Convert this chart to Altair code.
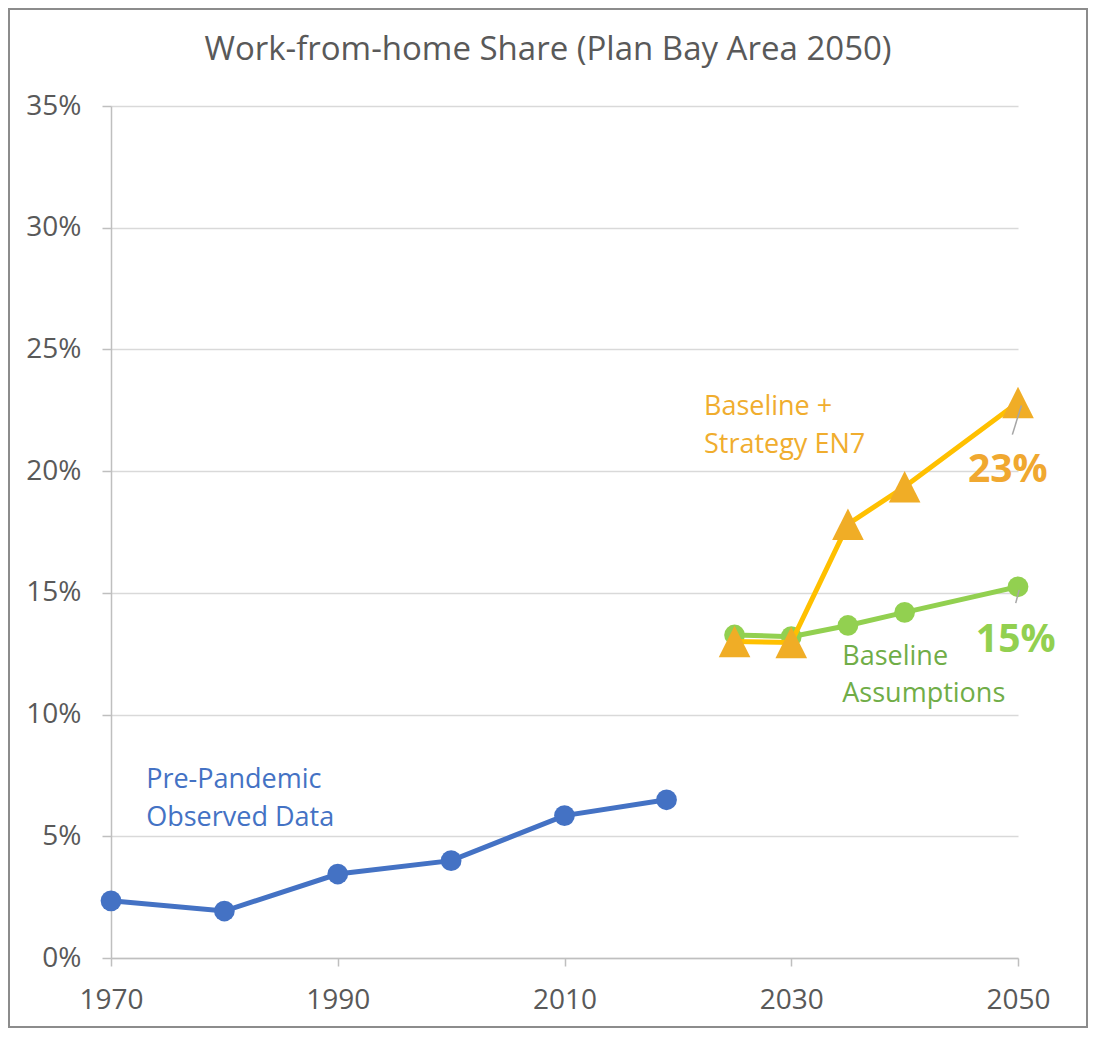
import altair as alt
import pandas as pd

# ---- data ----
obs_years = [1970, 1980, 1990, 2000, 2010, 2019]
obs_vals = [0.0235, 0.0193, 0.0345, 0.0400, 0.0585, 0.0650]

base_years = [2025, 2030, 2035, 2040, 2050]
base_vals = [0.1327, 0.1320, 0.1366, 0.1420, 0.1525]

en7_years = [2025, 2030, 2035, 2040, 2050]
en7_vals = [0.1300, 0.1296, 0.1782, 0.1936, 0.2282]

x_ticks = [1970, 1990, 2010, 2030, 2050]
y_ticks = [0.0, 0.05, 0.10, 0.15, 0.20, 0.25, 0.30, 0.35]

series_names = ["Observed", "Baseline", "EN7"]
line_colors = ["#4472C4", "#92D050", "#FFC000"]
point_colors = ["#4472C4", "#92D050", "#F0AD26"]

label_text = ["Pre-Pandemic", "Observed Data", "Baseline +", "Strategy EN7", "Baseline", "Assumptions"]
label_x = [1973.1, 1973.1, 2022.3, 2022.3, 2034.5, 2034.5]
label_y = [0.0731, 0.0575, 0.2264, 0.2108, 0.1237, 0.1085]
label_color = ["#4472C4", "#4472C4", "#F0AD2E", "#F0AD2E", "#70AD47", "#70AD47"]

value_text = ["23%", "15%"]
value_x = [2049.1, 2049.8]
value_y = [0.2005, 0.1306]
value_color = ["#F0A830", "#92D050"]

leader_x = [2049.5, 2049.8]
leader_x2 = [2050.3, 2050.1]
leader_y = [0.2150, 0.1458]
leader_y2 = [0.2270, 0.1512]

title_text = "Work-from-home Share (Plan Bay Area 2050)"

FONT = "Open Sans"
GREY = "#595959"

df = pd.concat([
    pd.DataFrame({"series": "Observed", "year": obs_years, "value": obs_vals}),
    pd.DataFrame({"series": "Baseline", "year": base_years, "value": base_vals}),
    pd.DataFrame({"series": "EN7", "year": en7_years, "value": en7_vals}),
], ignore_index=True)

labels = pd.DataFrame({"text": label_text, "year": label_x, "value": label_y, "color": label_color})
values = pd.DataFrame({"text": value_text, "year": value_x, "value": value_y, "color": value_color})
leaders = pd.DataFrame({"x": leader_x, "x2": leader_x2, "y": leader_y, "y2": leader_y2})

xscale = alt.Scale(domain=[1970, 2050], nice=False, zero=False)
yscale = alt.Scale(domain=[0, 0.35], nice=False)

X = alt.X("year:Q", scale=xscale, axis=alt.Axis(
    values=x_ticks, format="d", title=None, grid=False, labelFlush=False,
    domainColor="#BFBFBF", domainWidth=1.5, tickColor="#BFBFBF", tickSize=8, tickWidth=1.5,
    labelFont=FONT, labelFontSize=28, labelColor=GREY, labelPadding=20))
Y = alt.Y("value:Q", scale=yscale, axis=alt.Axis(
    values=y_ticks, format=".0%", title=None, grid=True, gridColor="#D9D9D9", gridWidth=1.5,
    domainColor="#BFBFBF", domainWidth=1.5, tickColor="#BFBFBF", tickSize=9, tickWidth=1.5,
    labelFont=FONT, labelFontSize=28, labelColor=GREY, labelPadding=21))

base = alt.Chart(df)

frame = alt.Chart(pd.DataFrame({"a": [0]})).mark_rect(
    fill=None, stroke="#8C8C8C", strokeWidth=2
).encode(x=alt.value(-102), x2=alt.value(976), y=alt.value(-97), y2=alt.value(921))

title = alt.Chart(pd.DataFrame({"t": [title_text]})).mark_text(
    font=FONT, fontSize=33, color=GREY, align="center", baseline="alphabetic"
).encode(text="t:N", x=alt.value(437), y=alt.value(-46))

line_layers = []
point_layers = []
for s, lc, pc in zip(series_names, line_colors, point_colors):
    sub = base.transform_filter(alt.datum.series == s)
    line_layers.append(sub.mark_line(color=lc, strokeWidth=5).encode(x=X, y=Y))
    if s == "EN7":
        point_layers.append(sub.mark_point(shape="M0,-1L-1,1L1,1Z", filled=True, opacity=1,
                                           color=pc, size=1000).encode(x=X, y=Y))
    else:
        point_layers.append(sub.mark_point(shape="circle", filled=True, opacity=1,
                                           color=pc, size=430).encode(x=X, y=Y))

lbl = alt.Chart(labels).mark_text(align="left", baseline="middle", font=FONT, fontSize=27).encode(
    x=alt.X("year:Q", scale=xscale), y=alt.Y("value:Q", scale=yscale),
    text="text:N", color=alt.Color("color:N", scale=None))

vals = alt.Chart(values).mark_text(align="center", baseline="middle", font=FONT, fontSize=39,
                                   fontWeight="bold").encode(
    x=alt.X("year:Q", scale=xscale), y=alt.Y("value:Q", scale=yscale),
    text="text:N", color=alt.Color("color:N", scale=None))

lead = alt.Chart(leaders).mark_rule(color="#A6A6A6", strokeWidth=1.5).encode(
    x=alt.X("x:Q", scale=xscale), x2="x2:Q", y=alt.Y("y:Q", scale=yscale), y2="y2:Q")

chart = alt.layer(
    frame, title,
    line_layers[0], point_layers[0],
    line_layers[1], point_layers[1],
    line_layers[2], point_layers[2],
    lbl, lead, vals,
).properties(
    width=907, height=852,
    autosize=alt.AutoSizeParams(type="none"),
    padding={"left": 103, "top": 98, "right": 70, "bottom": 70},
).configure_view(stroke=None)

chart.save("out.html", embed_options={"renderer": "svg", "actions": False})
